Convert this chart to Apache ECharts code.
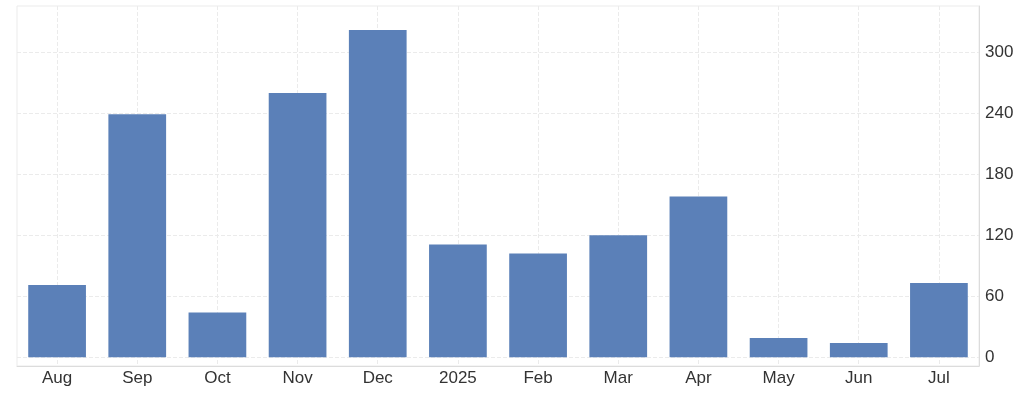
<!DOCTYPE html>
<html>
<head>
<meta charset="utf-8">
<script src="https://cdn.jsdelivr.net/npm/echarts@6/dist/echarts.min.js"></script>
<style>
html,body{margin:0;padding:0;background:#fff;}
#chart{width:1024px;height:401px;}
</style>
</head>
<body>
<div id="chart"></div>
<script>
const categories = ['Aug','Sep','Oct','Nov','Dec','2025','Feb','Mar','Apr','May','Jun','Jul'];
const values = [71, 239, 44, 260, 322, 111, 102, 120, 158, 19, 14, 73];
const yTicks = [0, 60, 120, 180, 240, 300];

const chart = echarts.init(document.getElementById('chart'), null, {renderer: 'canvas'});
chart.setOption({
  animation: false,
  backgroundColor: '#ffffff',
  grid: {
    left: 17, right: 45, top: 6, height: 360,
    show: true, borderColor: '#ebebeb', borderWidth: 1, backgroundColor: 'transparent'
  },
  xAxis: {
    type: 'category',
    data: categories,
    boundaryGap: true,
    axisLine: {show: true, onZero: false, lineStyle: {color: '#dcdcdc'}},
    axisTick: {show: false, alignWithLabel: true},
    axisLabel: {color: '#333333', fontSize: 17, fontFamily: 'Liberation Sans, Arial, sans-serif', margin: 4},
    splitLine: {show: true, alignWithLabel: true, lineStyle: {color: '#ebebeb', type: [4, 2]}}
  },
  yAxis: {
    type: 'value',
    position: 'right',
    min: -8.6,
    max: 345.5,
    axisLine: {show: true, lineStyle: {color: '#dcdcdc'}},
    axisTick: {show: false, customValues: yTicks},
    axisLabel: {customValues: yTicks, color: '#333333', fontSize: 17, fontFamily: 'Liberation Sans, Arial, sans-serif', margin: 6},
    splitLine: {show: true, lineStyle: {color: '#ebebeb', type: [4, 2]}}
  },
  series: [{
    type: 'bar',
    data: values,
    barWidth: '72%',
    itemStyle: {color: '#5b80b8'}
  }]
});
</script>
</body>
</html>
